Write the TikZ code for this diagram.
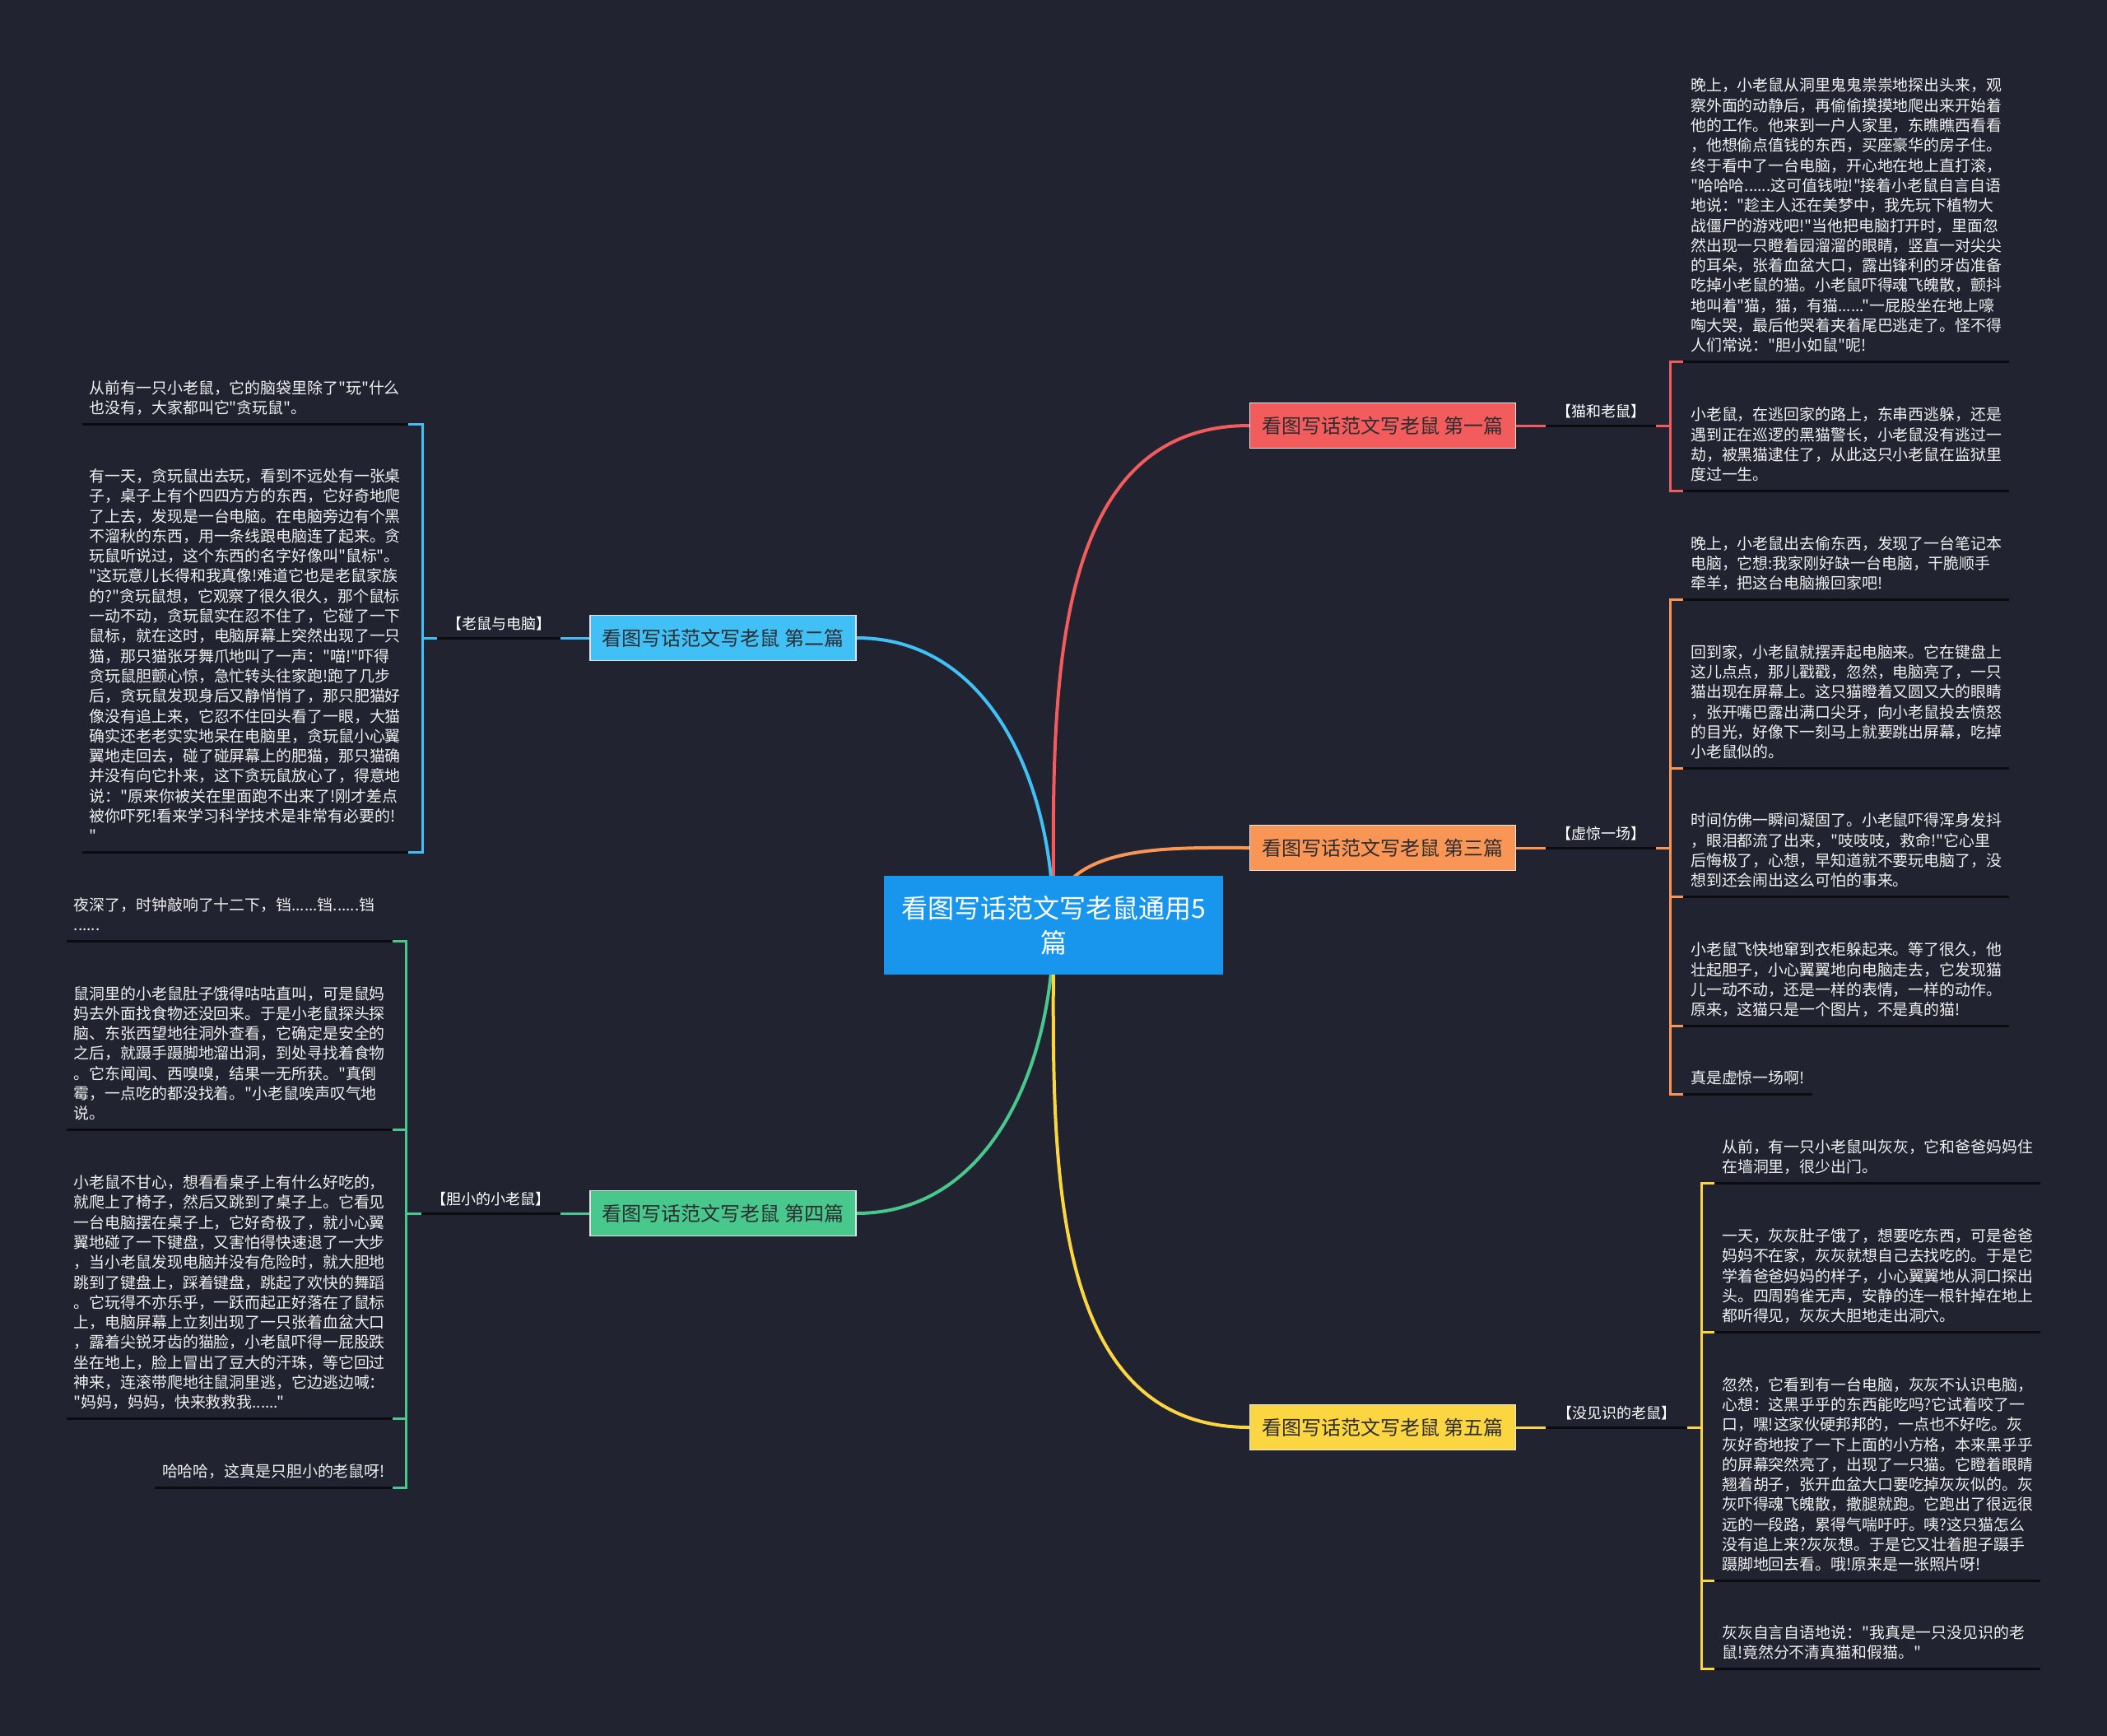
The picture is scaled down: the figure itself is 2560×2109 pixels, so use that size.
\documentclass[tikz,border=0pt]{standalone}
\usepackage{fontspec}
\setmainfont{Noto Sans CJK SC}
\newfontfamily\nfont{Noto Sans CJK SC}
\usetikzlibrary{calc}
\definecolor{bgc}{RGB}{33,36,48}
\definecolor{ulc}{RGB}{12,12,16}
\definecolor{cred}{RGB}{242,92,92}
\definecolor{cblue}{RGB}{64,192,245}
\definecolor{corange}{RGB}{250,150,85}
\definecolor{cgreen}{RGB}{72,200,140}
\definecolor{cyellow}{RGB}{252,214,64}
\definecolor{ccenter}{RGB}{24,150,238}
\definecolor{leaftext}{RGB}{240,240,240}
\definecolor{brd}{RGB}{225,228,232}
\definecolor{btext}{RGB}{45,45,50}
\pgfdeclarelayer{bg}
\pgfsetlayers{bg,main}
\newcommand\dstrut{\rule[-12pt]{0pt}{12pt}}
\newcommand\lstrut{\rule[-10pt]{0pt}{10pt}}
\begin{document}
\begin{tikzpicture}[x=1pt,y=-1pt,
  conn/.style={line width=3pt},
  curve/.style={line width=4pt},
  uline/.style={line width=3pt, draw=ulc},
  leaf/.style={inner xsep=9pt, inner ysep=0pt, align=left, text=leaftext, font=\nfont\fontsize{18.9}{24.3}\selectfont},
  wleaf/.style={leaf, text width=378pt},
  lab/.style={inner sep=0pt, text=white, font=\nfont\fontsize{18}{22}\selectfont, anchor=south},
  branch/.style={draw=brd, line width=1.5pt, minimum width=323pt, minimum height=55pt, inner sep=0pt, text=btext, font=\nfont\fontsize{24}{28}\selectfont},
]
\begin{pgfonlayer}{bg}
\fill[bgc] (0,0) rectangle (2560,2109);
\end{pgfonlayer}
\useasboundingbox (0,0) rectangle (2560,2109);

% center
\node[fill=ccenter, minimum width=412pt, minimum height=120pt, inner sep=0pt, text=white, align=center, font=\nfont\fontsize{32}{42}\selectfont] (c) at (1280,1124) {看图写话范文写老鼠通用5\\篇};

% branches
\node[branch, fill=cred] (b1) at (1680,517) {看图写话范文写老鼠 第一篇};
\node[branch, fill=cblue] (b2) at (878.5,775) {看图写话范文写老鼠 第二篇};
\node[branch, fill=corange] (b3) at (1680,1030) {看图写话范文写老鼠 第三篇};
\node[branch, fill=cgreen] (b4) at (878.5,1474) {看图写话范文写老鼠 第四篇};
\node[branch, fill=cyellow] (b5) at (1680,1734) {看图写话范文写老鼠 第五篇};

% labels
\node[lab, minimum width=134pt] (l1) at (1945,517) {【猫和老鼠】\lstrut};
\node[lab, minimum width=134pt] (l3) at (1945,1030) {【虚惊一场】\lstrut};
\node[lab, minimum width=172pt] (l5) at (1964,1734) {【没见识的老鼠】\lstrut};
\node[lab, minimum width=150pt] (l2) at (606,775) {【老鼠与电脑】\lstrut};
\node[lab, minimum width=169pt] (l4) at (596.5,1474) {【胆小的小老鼠】\lstrut};

% bracket points
\coordinate (k1) at (2029,517);
\coordinate (k3) at (2029,1030);
\coordinate (k5) at (2067,1734);
\coordinate (k2) at (513,775);
\coordinate (k4) at (493,1474);

% leaves of branch 1
\node[wleaf, anchor=south west] (A1) at (2045,439) {晚上，小老鼠从洞里鬼鬼祟祟地探出头来，观\\察外面的动静后，再偷偷摸摸地爬出来开始着\\他的工作。他来到一户人家里，东瞧瞧西看看\\，他想偷点值钱的东西，买座豪华的房子住。\\终于看中了一台电脑，开心地在地上直打滚，\\"哈哈哈......这可值钱啦!"接着小老鼠自言自语\\地说："趁主人还在美梦中，我先玩下植物大\\战僵尸的游戏吧!"当他把电脑打开时，里面忽\\然出现一只瞪着园溜溜的眼睛，竖直一对尖尖\\的耳朵，张着血盆大口，露出锋利的牙齿准备\\吃掉小老鼠的猫。小老鼠吓得魂飞魄散，颤抖\\地叫着"猫，猫，有猫......"一屁股坐在地上嚎\\啕大哭，最后他哭着夹着尾巴逃走了。怪不得\\人们常说："胆小如鼠"呢!\dstrut};
\node[wleaf, anchor=south west] (A2) at (2045,596) {小老鼠，在逃回家的路上，东串西逃躲，还是\\遇到正在巡逻的黑猫警长，小老鼠没有逃过一\\劫，被黑猫逮住了，从此这只小老鼠在监狱里\\度过一生。\dstrut};

% leaves of branch 3
\node[wleaf, anchor=south west] (C1) at (2045,728) {晚上，小老鼠出去偷东西，发现了一台笔记本\\电脑，它想:我家刚好缺一台电脑，干脆顺手\\牵羊，把这台电脑搬回家吧!\dstrut};
\node[wleaf, anchor=south west] (C2) at (2045,933) {回到家，小老鼠就摆弄起电脑来。它在键盘上\\这儿点点，那儿戳戳，忽然，电脑亮了，一只\\猫出现在屏幕上。这只猫瞪着又圆又大的眼睛\\，张开嘴巴露出满口尖牙，向小老鼠投去愤怒\\的目光，好像下一刻马上就要跳出屏幕，吃掉\\小老鼠似的。\dstrut};
\node[wleaf, anchor=south west] (C3) at (2045,1089) {时间仿佛一瞬间凝固了。小老鼠吓得浑身发抖\\，眼泪都流了出来，"吱吱吱，救命!"它心里\\后悔极了，心想，早知道就不要玩电脑了，没\\想到还会闹出这么可怕的事来。\dstrut};
\node[wleaf, anchor=south west] (C4) at (2045,1246) {小老鼠飞快地窜到衣柜躲起来。等了很久，他\\壮起胆子，小心翼翼地向电脑走去，它发现猫\\儿一动不动，还是一样的表情，一样的动作。\\原来，这猫只是一个图片，不是真的猫!\dstrut};
\node[leaf, anchor=south west] (C5) at (2045,1329) {真是虚惊一场啊!\dstrut};

% leaves of branch 5
\node[wleaf, anchor=south west] (E1) at (2083,1437) {从前，有一只小老鼠叫灰灰，它和爸爸妈妈住\\在墙洞里，很少出门。\dstrut};
\node[wleaf, anchor=south west] (E2) at (2083,1618) {一天，灰灰肚子饿了，想要吃东西，可是爸爸\\妈妈不在家，灰灰就想自己去找吃的。于是它\\学着爸爸妈妈的样子，小心翼翼地从洞口探出\\头。四周鸦雀无声，安静的连一根针掉在地上\\都听得见，灰灰大胆地走出洞穴。\dstrut};
\node[wleaf, anchor=south west] (E3) at (2083,1920) {忽然，它看到有一台电脑，灰灰不认识电脑，\\心想：这黑乎乎的东西能吃吗?它试着咬了一\\口，嘿!这家伙硬邦邦的，一点也不好吃。灰\\灰好奇地按了一下上面的小方格，本来黑乎乎\\的屏幕突然亮了，出现了一只猫。它瞪着眼睛\\翘着胡子，张开血盆大口要吃掉灰灰似的。灰\\灰吓得魂飞魄散，撒腿就跑。它跑出了很远很\\远的一段路，累得气喘吁吁。咦?这只猫怎么\\没有追上来?灰灰想。于是它又壮着胆子蹑手\\蹑脚地回去看。哦!原来是一张照片呀!\dstrut};
\node[wleaf, anchor=south west] (E4) at (2083,2027) {灰灰自言自语地说："我真是一只没见识的老\\鼠!竟然分不清真猫和假猫。"\dstrut};

% leaves of branch 2
\node[wleaf, anchor=south east] (B1) at (496,515) {从前有一只小老鼠，它的脑袋里除了"玩"什么\\也没有，大家都叫它"贪玩鼠"。\dstrut};
\node[wleaf, anchor=south east] (B2) at (496,1035) {有一天，贪玩鼠出去玩，看到不远处有一张桌\\子，桌子上有个四四方方的东西，它好奇地爬\\了上去，发现是一台电脑。在电脑旁边有个黑\\不溜秋的东西，用一条线跟电脑连了起来。贪\\玩鼠听说过，这个东西的名字好像叫"鼠标"。\\"这玩意儿长得和我真像!难道它也是老鼠家族\\的?"贪玩鼠想，它观察了很久很久，那个鼠标\\一动不动，贪玩鼠实在忍不住了，它碰了一下\\鼠标，就在这时，电脑屏幕上突然出现了一只\\猫，那只猫张牙舞爪地叫了一声："喵!"吓得\\贪玩鼠胆颤心惊，急忙转头往家跑!跑了几步\\后，贪玩鼠发现身后又静悄悄了，那只肥猫好\\像没有追上来，它忍不住回头看了一眼，大猫\\确实还老老实实地呆在电脑里，贪玩鼠小心翼\\翼地走回去，碰了碰屏幕上的肥猫，那只猫确\\并没有向它扑来，这下贪玩鼠放心了，得意地\\说："原来你被关在里面跑不出来了!刚才差点\\被你吓死!看来学习科学技术是非常有必要的!\\"\dstrut};

% leaves of branch 4
\node[wleaf, anchor=south east] (D1) at (477,1143) {夜深了，时钟敲响了十二下，铛......铛......铛\\......\dstrut};
\node[wleaf, anchor=south east] (D2) at (477,1372) {鼠洞里的小老鼠肚子饿得咕咕直叫，可是鼠妈\\妈去外面找食物还没回来。于是小老鼠探头探\\脑、东张西望地往洞外查看，它确定是安全的\\之后，就蹑手蹑脚地溜出洞，到处寻找着食物\\。它东闻闻、西嗅嗅，结果一无所获。"真倒\\霉，一点吃的都没找着。"小老鼠唉声叹气地\\说。\dstrut};
\node[wleaf, anchor=south east] (D3) at (477,1723) {小老鼠不甘心，想看看桌子上有什么好吃的，\\就爬上了椅子，然后又跳到了桌子上。它看见\\一台电脑摆在桌子上，它好奇极了，就小心翼\\翼地碰了一下键盘，又害怕得快速退了一大步\\，当小老鼠发现电脑并没有危险时，就大胆地\\跳到了键盘上，踩着键盘，跳起了欢快的舞蹈\\。它玩得不亦乐乎，一跃而起正好落在了鼠标\\上，电脑屏幕上立刻出现了一只张着血盆大口\\，露着尖锐牙齿的猫脸，小老鼠吓得一屁股跌\\坐在地上，脸上冒出了豆大的汗珠，等它回过\\神来，连滚带爬地往鼠洞里逃，它边逃边喊：\\"妈妈，妈妈，快来救救我......"\dstrut};
\node[leaf, anchor=south east] (D4) at (477,1807) {哈哈哈，这真是只胆小的老鼠呀!\dstrut};

% curves from center
\begin{pgfonlayer}{bg}
\draw[curve, cred] (c.center) to[out=90,in=180] (b1.west);
\draw[curve, cblue] (c.center) to[out=90,in=0] (b2.east);
\draw[curve, corange] (c.center) to[out=90,in=180] (b3.west);
\draw[curve, cgreen] (c.center) to[out=-90,in=0] (b4.east);
\draw[curve, cyellow] (c.center) to[out=-90,in=180] (b5.west);
\end{pgfonlayer}

% branch 1 connectors
\draw[conn, cred] (b1.east) -- (l1.south west);
\draw[conn, cred] (l1.south east) -- (k1);
\draw[conn, cred] (A1.south west) -| (k1) |- (A2.south west);

% branch 3 connectors
\draw[conn, corange] (b3.east) -- (l3.south west);
\draw[conn, corange] (l3.south east) -- (k3);
\draw[conn, corange] (C1.south west) -| (k3) |- (C5.south west);
\draw[conn, corange] (C2.south west) -- (C2.south west -| k3);
\draw[conn, corange] (C3.south west) -- (C3.south west -| k3);
\draw[conn, corange] (C4.south west) -- (C4.south west -| k3);

% branch 5 connectors
\draw[conn, cyellow] (b5.east) -- (l5.south west);
\draw[conn, cyellow] (l5.south east) -- (k5);
\draw[conn, cyellow] (E1.south west) -| (k5) |- (E4.south west);
\draw[conn, cyellow] (E2.south west) -- (E2.south west -| k5);
\draw[conn, cyellow] (E3.south west) -- (E3.south west -| k5);

% branch 2 connectors
\draw[conn, cblue] (b2.west) -- (l2.south east);
\draw[conn, cblue] (l2.south west) -- (k2);
\draw[conn, cblue] (B1.south east) -| (k2) |- (B2.south east);

% branch 4 connectors
\draw[conn, cgreen] (b4.west) -- (l4.south east);
\draw[conn, cgreen] (l4.south west) -- (k4);
\draw[conn, cgreen] (D1.south east) -| (k4) |- (D4.south east);
\draw[conn, cgreen] (D2.south east) -- (D2.south east -| k4);
\draw[conn, cgreen] (D3.south east) -- (D3.south east -| k4);

% underlines
\foreach \n in {l1,l2,l3,l4,l5,A1,A2,C1,C2,C3,C4,C5,E1,E2,E3,E4,B1,B2,D1,D2,D3,D4}
  \draw[uline] (\n.south west) -- (\n.south east);
\end{tikzpicture}
\end{document}
